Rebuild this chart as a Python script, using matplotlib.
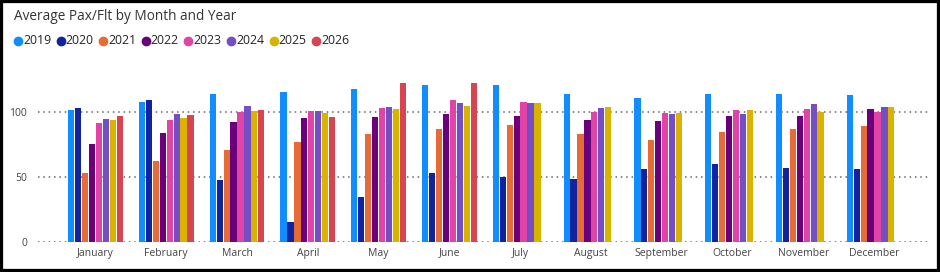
import matplotlib.pyplot as plt
import numpy as np
from matplotlib.lines import Line2D
from matplotlib.patches import Rectangle

months = ["January", "February", "March", "April", "May", "June", "July",
          "August", "September", "October", "November", "December"]
years = ["2019", "2020", "2021", "2022", "2023", "2024", "2025", "2026"]
colors = ["#118DFF", "#12239E", "#E66C37", "#6B007B", "#E044A7", "#744EC2",
          "#D9B300", "#D64550"]

# values per year (None = no data yet)
v2019 = [101.8, 108.0, 113.9, 115.4, 118.1, 121.2, 121.4, 114.5, 110.8, 114.1, 113.9, 113.4]
v2020 = [103.1, 109.5, 47.6, 15.2, 34.9, 53.5, 50.1, 48.3, 56.0, 60.2, 57.1, 56.6]
v2021 = [53.2, 62.5, 70.7, 77.1, 83.5, 87.1, 90.4, 83.5, 78.9, 84.8, 87.1, 89.7]
v2022 = [75.6, 83.8, 92.8, 95.6, 96.6, 99.0, 96.9, 93.8, 93.1, 96.9, 97.4, 102.6]
v2023 = [91.8, 93.8, 100.5, 101.3, 103.1, 109.3, 108.0, 100.3, 99.2, 101.5, 102.6, 100.0]
v2024 = [95.1, 99.0, 104.9, 101.0, 103.9, 107.2, 107.2, 103.6, 98.7, 98.7, 106.4, 104.1]
v2025 = [94.1, 95.6, 101.0, 99.2, 102.6, 105.2, 107.5, 104.1, 99.5, 101.8, 100.5, 104.4]
v2026 = [97.4, 98.2, 101.5, 96.6, 122.5, 122.5, None, None, None, None, None, None]
series = [v2019, v2020, v2021, v2022, v2023, v2024, v2025, v2026]

plt.rcParams['font.family'] = ['Open Sans', 'DejaVu Sans']

fig = plt.figure(figsize=(9.4, 2.72), dpi=100)
ax = fig.add_axes([38 / 940, 30 / 272, (931 - 38) / 940, (242 - 67) / 272])

x = np.arange(len(months))
n = len(years)
step = 0.098
bw = 0.088
for i, (vals, c) in enumerate(zip(series, colors)):
    xs = [x[j] + (i - (n - 1) / 2) * step for j in range(len(months)) if vals[j] is not None]
    ys = [v for v in vals if v is not None]
    ax.bar(xs, ys, width=bw, color=c, edgecolor='none')

ax.set_xlim(-0.812, 11.805)
ax.set_ylim(0, 135)
ax.set_yticks([0, 50, 100])
ax.set_xticks(x)
ax.set_xticklabels(months)
ax.grid(axis='y', linestyle=(0, (1, 2.5)), color='#666666', linewidth=1.1)
ax.set_axisbelow(True)
for s in ax.spines.values():
    s.set_visible(False)
ax.tick_params(axis='both', length=0, labelsize=7.5, colors='#444444')
ax.tick_params(axis='y', pad=8)
ax.tick_params(axis='x', pad=4)

fig.text(14 / 940, 1 - 16 / 272, "Average Pax/Flt by Month and Year",
         fontsize=9.8, color='#333333', va='center', ha='left')

lx = 18
for yr, c in zip(years, colors):
    fig.add_artist(Line2D([lx / 940], [1 - 41 / 272], marker='o', markersize=6,
                          color=c, linestyle='none', transform=fig.transFigure))
    fig.text((lx + 5) / 940, 1 - 41 / 272, yr, fontsize=8.8, color='#252423',
             va='center', ha='left')
    lx += 42.6

fig.add_artist(Rectangle((0, 0), 1, 1, transform=fig.transFigure, fill=False,
                         edgecolor='black', linewidth=4.5))

fig.savefig("out.png", dpi=100)
